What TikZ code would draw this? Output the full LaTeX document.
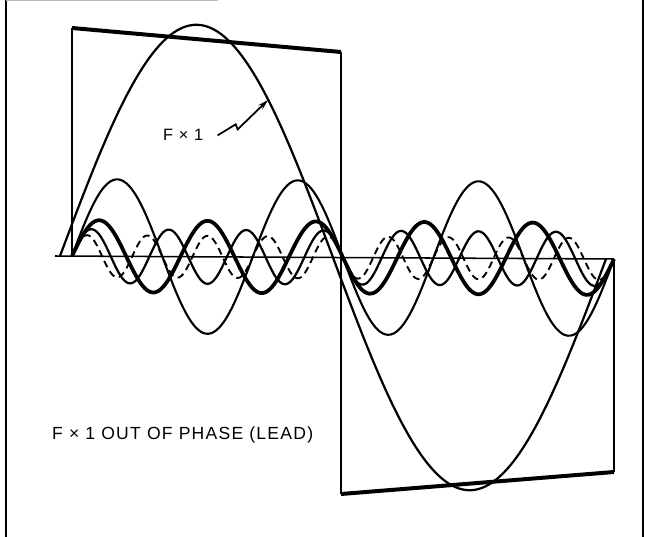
\documentclass[tikz,border=0pt]{standalone}
\usepackage{fontspec}
\usepackage{tikz}
\usetikzlibrary{arrows.meta}
\newfontfamily\lblfont[LetterSpace=7]{Liberation Sans}
\tikzset{
  frame/.style={line width=1.6pt},
  axisline/.style={line width=1.3pt},
  sqside/.style={line width=1.9pt},
  sqedge/.style={line width=3.4pt},
  fund/.style={line width=1.9pt},
  harm/.style={line width=1.8pt},
  harmbold/.style={line width=3.2pt},
  harmmid/.style={line width=1.9pt},
  harmdash/.style={line width=1.6pt, dash pattern=on 6pt off 4pt},
  arr/.style={-{Stealth[length=9pt,width=5pt]}, line width=1.5pt},
  lbl/.style={font=\lblfont\fontsize{15}{17}\selectfont, inner sep=0pt, anchor=base west},
  lblsmall/.style={font=\lblfont\fontsize{14}{16}\selectfont, inner sep=0pt, anchor=base west},
  declare function={base(\x)=256+0.0054*(\x-55);
                    fundamental(\x)=sin(0.659341*(\x-60));
                    harmonic(\n,\x)=sin(0.664207*\n*(\x-72));}
}

\begin{document}
\begin{tikzpicture}[x=0.03cm, y=-0.03cm]
  \useasboundingbox (0,0) rectangle (646,537);

  % ── Frame ──────────────────────────────────────────────────────────────────
  \draw[frame] (6,0) -- (6,537);
  \draw[frame] (643,0) -- (643,537);
  \draw[gray!55, line width=0.8pt] (6,0.6) -- (218,0.6);

  % ── Axis ───────────────────────────────────────────────────────────────────
  \draw[axisline] (55,256) -- (614,259);

  % ── Square wave ────────────────────────────────────────────────────────────
  \draw[sqside] (72,256) -- (72,28);
  \draw[sqedge] (72,28) -- (341,52);
  \draw[sqside] (341,52) -- (341,494);
  \draw[sqedge] (341,494) -- (614,472);
  \draw[sqside] (614,472) -- (614,259);

  % ── Fundamental (leading) ──────────────────────────────────────────────────
  \draw[fund] plot[domain=60:606, samples=160, smooth]
    (\x, {base(\x) - 232*fundamental(\x)});

  % ── Harmonics ──────────────────────────────────────────────────────────────
  \draw[harm]     plot[domain=72:614, samples=200, smooth] (\x, {base(\x) - 77*harmonic(3,\x)});
  \draw[harmbold] plot[domain=72:614, samples=240, smooth] (\x, {base(\x) - 36*harmonic(5,\x)});
  \draw[harmmid]  plot[domain=72:614, samples=280, smooth] (\x, {base(\x) - 27*harmonic(7,\x)});
  \draw[harmdash] plot[domain=72:614, samples=320, smooth] (\x, {base(\x) - 21*harmonic(9,\x)});

  % ── Labels ─────────────────────────────────────────────────────────────────
  \node[lblsmall] (fxone) at (163,141) {F × 1};
  \coordinate (tip) at (268,100);
  \draw[arr] ([xshift=12pt]fxone.east) -- ++(18,-11) -- ++(2,5) -- (tip);

  \node[lbl] (caption) at (52,439) {F × 1 OUT OF PHASE (LEAD)};
\end{tikzpicture}
\end{document}
